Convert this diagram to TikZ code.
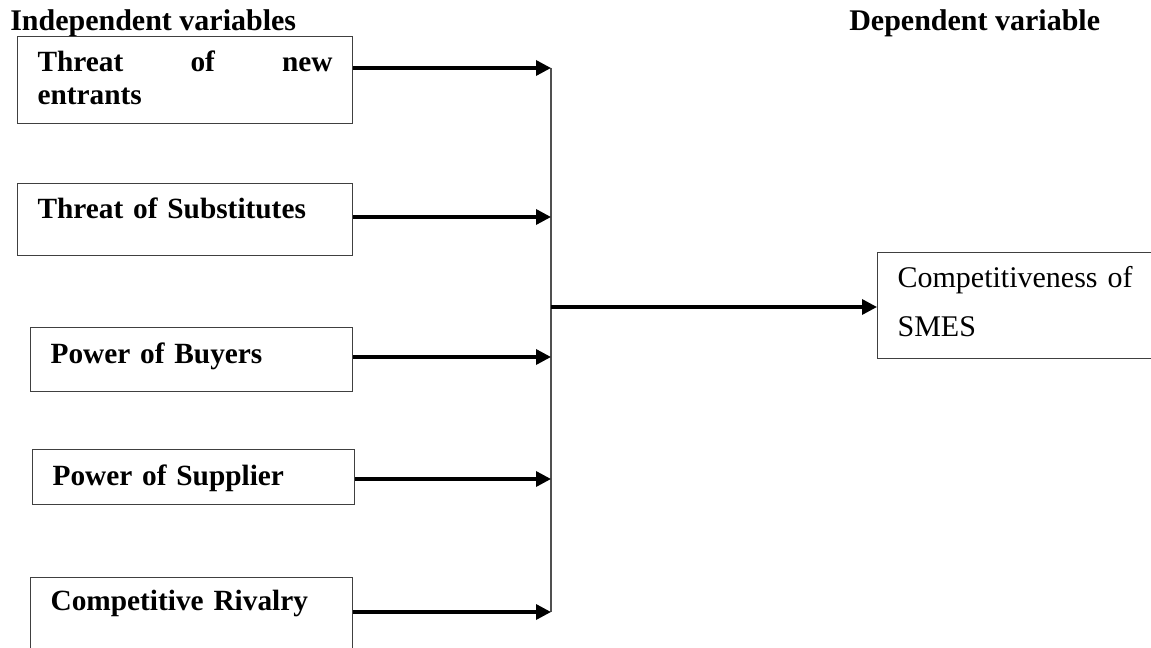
\documentclass[tikz,border=0pt]{standalone}
\usepackage{fontspec}
\setmainfont{Liberation Serif}
\usetikzlibrary{positioning,arrows.meta}
\definecolor{cBox}{HTML}{404040}
\definecolor{cBus}{HTML}{505050}
\tikzset{
  factor/.style={draw=cBox,line width=0.9pt,anchor=north west,align=left,inner xsep=15pt,inner ysep=0pt,font=\fontsize{22}{24.75}\selectfont\bfseries},
  result/.style={draw=cBox,line width=0.9pt,anchor=north west,align=left,inner xsep=15pt,inner ysep=0pt,font=\fontsize{22.5}{36.75}\selectfont},
  head/.style={anchor=base west,inner sep=0pt,font=\fontsize{22.5}{27}\selectfont\bfseries},
  feed/.style={-{Triangle[length=11.25pt,width=11.25pt]},line width=2.5pt},
  bus/.style={draw=cBus,line width=1pt},
}
\begin{document}
\begin{tikzpicture}[x=0.75pt,y=-0.75pt]
  \path[use as bounding box,clip] (0,0) rectangle (1151,648);
  \node[head] (indep) at (10,31) {Independent variables};
  \node[head] (dep) at (849,31) {Dependent variable};

  % independent variables
  \node[factor,text width=221.25pt,text height=26.25pt,text depth=39pt] (newent) at (17,36) {Threat\hfill of\hfill new\\entrants};
  \node[factor,text width=221.25pt,text height=26.25pt,text depth=27.75pt] (subst) at (17,183) {Threat of Substitutes};
  \node[factor,text width=211.5pt,text height=27pt,text depth=21pt] (buyers) at (30,327) {Power of Buyers};
  \node[factor,text width=211.5pt,text height=27pt,text depth=14.25pt] (supplier) at (32,449) {Power of Supplier};
  \node[factor,text width=211.5pt,text height=24.75pt,text depth=41.25pt] (rivalry) at (30,577) {Competitive Rivalry};

  % dependent variable
  \node[result,text width=187.5pt,text height=26.25pt,text depth=53.25pt] (smes) at (877,252) {Competitiveness of\\SMES};

  \coordinate (p1) at (551,68);
  \coordinate (p2) at (551,217);
  \coordinate (p3) at (551,357);
  \coordinate (p4) at (551,479);
  \coordinate (p5) at (551,612);
  \coordinate (jn) at (551,307);

  \draw[bus] (p1) -- (p5);
  \draw[feed] (newent.east |- p1) -- (p1);
  \draw[feed] (subst.east |- p2) -- (p2);
  \draw[feed] (buyers.east |- p3) -- (p3);
  \draw[feed] (supplier.east |- p4) -- (p4);
  \draw[feed] (rivalry.east |- p5) -- (p5);
  \draw[feed] (jn) -- (smes.west |- jn);
\end{tikzpicture}
\end{document}
